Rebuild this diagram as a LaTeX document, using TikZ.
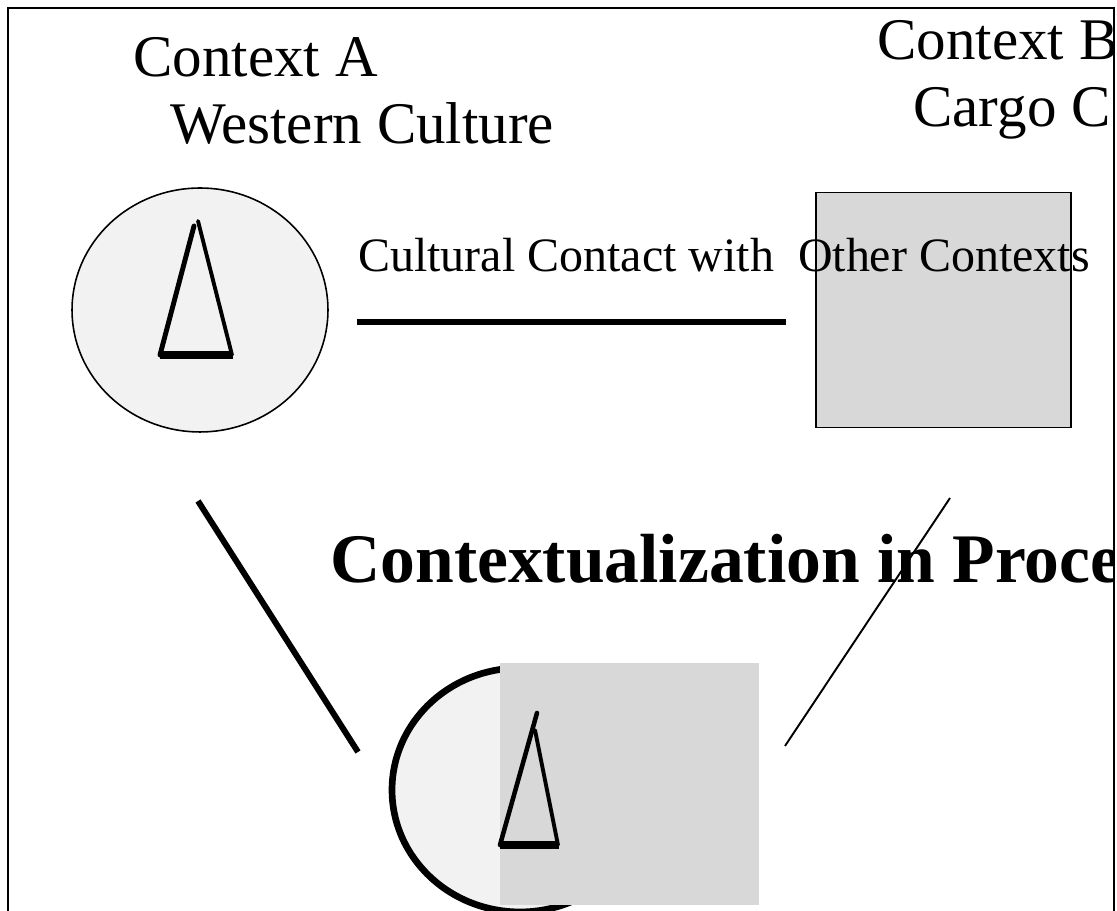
\documentclass[tikz,border=0pt]{standalone}
\usepackage{fontspec}
\setmainfont{Liberation Serif}
\usetikzlibrary{shapes.geometric}
\definecolor{paleA}{HTML}{F2F2F2}
\definecolor{greyB}{HTML}{D8D8D8}

\begin{document}
\begin{tikzpicture}[x=0.02cm, y=-0.02cm,
    label/.style={anchor=base west, inner sep=0pt,
                  font=\fontsize{33.6}{40}\selectfont},
    small/.style={anchor=base west, inner sep=0pt,
                  font=\fontsize{27.3}{32}\selectfont},
    heading/.style={anchor=base west, inner sep=0pt,
                    font=\fontsize{39.6}{48}\selectfont\bfseries},
    roundctx/.style={ellipse, fill=paleA, inner sep=0pt, outer sep=0pt,
                     minimum width=5.12cm, minimum height=4.88cm},
    squarectx/.style={rectangle, fill=greyB, inner sep=0pt, outer sep=0pt,
                      minimum width=5.1cm, minimum height=4.7cm},
    link/.style={line width=3.6pt},
    side/.style={line width=2.2pt, line cap=round},
    base/.style={line width=4pt},
  ]
    \useasboundingbox (0,0) rectangle (1117,911);
    \begin{scope}
    \clip (0,0) rectangle (1113,911);

    % Context A (left) -------------------------------------------------------
    \node[label] (ctxA)  at (133,77)  {Context A};
    \node[label] (cultA) at (170,144) {Western Culture};
    \node[roundctx, draw, line width=0.9pt] (circA) at (200,310) {};
    \draw[side, line width=2.8pt] (160,355) -- (194,226);
    \draw[side] (198,221) -- (232,355);
    \draw[base] (160,355) -- (233,355);

    % Context B (right) ------------------------------------------------------
    \node[label] (ctxB)  at (877,60)  {Context B};
    \node[label] (cultB) at (913,127) {Cargo C};
    \node[squarectx, draw, line width=0.9pt] (sqB) at (943.5,310) {};

    % Contact ----------------------------------------------------------------
    \node[small] (contact) at (358,272) {Cultural Contact with\ \ Other Contexts};
    \coordinate (linkL) at (357,322);
    \coordinate (linkR) at (786,322);
    \draw[link] (linkL) -- (linkR);

    % Heading ----------------------------------------------------------------
    \node[heading] (process) at (330,583) {Contextualization in Proce};

    % Result (bottom) --------------------------------------------------------
    \node[roundctx, draw, line width=3.8pt] (circC) at (520,790) {};
    \node[squarectx, minimum width=5.18cm, minimum height=4.84cm] (sqC) at (629.5,784) {};
    \draw[side, line width=2.6pt] (500,845) -- (537,713);
    \draw[side] (535,730) -- (558,845);
    \draw[base] (500,845) -- (559,845);

    % Arrows -----------------------------------------------------------------
    \coordinate (fromA) at (198,501);
    \coordinate (toC)   at (358,752);
    \coordinate (fromB) at (950,498);
    \coordinate (toD)   at (785,746);
    \draw[line width=3.4pt] (fromA) -- (toC);
    \draw[line width=1.1pt] (fromB) -- (toD);
    \end{scope}

    % Frame ------------------------------------------------------------------
    \draw[line width=0.9pt] (8,930) -- (8,8) -- (1114,8) -- (1114,930);
  \end{tikzpicture}
\end{document}
